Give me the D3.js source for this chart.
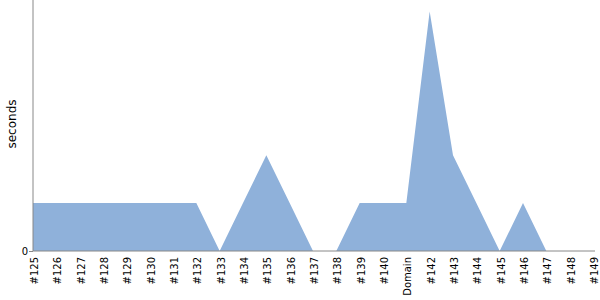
<!DOCTYPE html>
<html><head><meta charset="utf-8">
<script src="https://cdn.jsdelivr.net/npm/d3@7"></script>
<style>body{margin:0;background:#fff}svg{display:block}</style>
</head><body><svg id="c" width="600" height="300"></svg>
<script>
const categories = ["#125","#126","#127","#128","#129","#130","#131","#132","#133","#134","#135","#136","#137","#138","#139","#140","Domain","#142","#143","#144","#145","#146","#147","#148","#149"];
const seconds = [1,1,1,1,1,1,1,1,0,1,2,1,0,0,1,1,1,5,2,1,0,1,0,0,0];
const yTicks = [0];
const FONT = "'DejaVu Sans', 'Bitstream Vera Sans', Verdana, sans-serif";

const svg = d3.select("#c");
const x = d3.scalePoint().domain(categories).range([33, 593]);
const y = d3.scaleLinear().domain([0, 5.24]).range([251, 0]);

const data = categories.map((c,i)=>({c, v: seconds[i]}));
svg.append("path").datum(data)
  .attr("fill","#8fb1da")
  .attr("d", d3.area().x(d=>x(d.c)).y0(y(0)).y1(d=>y(d.v)));

const gx = svg.append("g").attr("transform","translate(0,251)")
  .call(d3.axisBottom(x).tickSize(0).tickPadding(0));
gx.attr("font-family", null);
gx.select(".domain").attr("stroke","#888").attr("d","M33,0H595");
gx.selectAll("text").style("font-size","10px").attr("fill","#000").style("font-family",FONT)
  .attr("text-anchor","end").attr("transform","rotate(-90)")
  .attr("x",-6).attr("y",1).attr("dy","0.35em");

const gy = svg.append("g").attr("transform","translate(33,0)")
  .call(d3.axisLeft(y).tickValues(yTicks).tickFormat(d3.format("d")).tickSize(4).tickPadding(1));
gy.attr("font-family", null);
gy.select(".domain").attr("stroke","#888").attr("d","M0,0V251");
gy.selectAll(".tick line").attr("stroke","#888");
gy.selectAll("text").style("font-size","10px").attr("fill","#000").style("font-family",FONT);

svg.append("text").attr("transform","translate(16,124) rotate(-90)")
  .attr("text-anchor","middle").style("font-size","12px").style("font-family",FONT).attr("fill","#000").text("seconds");
</script></body></html>
